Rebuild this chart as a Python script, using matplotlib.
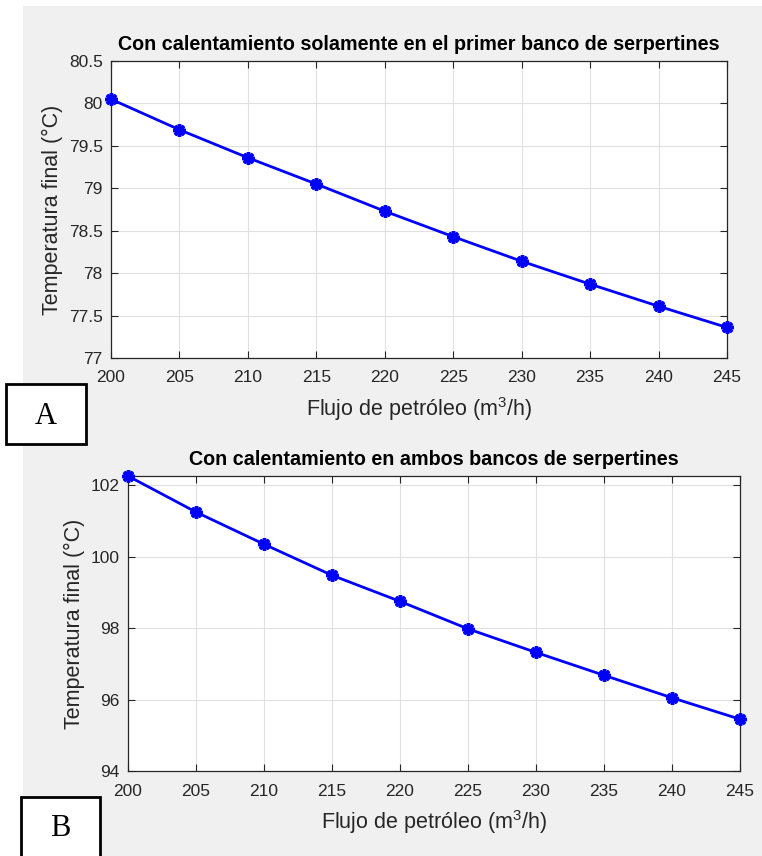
"""Temperatura final vs flujo de petróleo, dos casos de calentamiento."""
import matplotlib
matplotlib.use("Agg")
import matplotlib.pyplot as plt
from matplotlib.patches import Rectangle

plt.rcParams["font.family"] = ["Liberation Sans", "DejaVu Sans"]
plt.rcParams["mathtext.default"] = "regular"

FLUJO = [200, 205, 210, 215, 220, 225, 230, 235, 240, 245]
TEMP_PRIMER_BANCO = [80.05, 79.69, 79.36, 79.05, 78.73, 78.43, 78.14, 77.87, 77.61, 77.36]
TEMP_AMBOS_BANCOS = [102.26, 101.25, 100.35, 99.48, 98.75, 97.98, 97.32, 96.68, 96.05, 95.45]

TITLE_A = "Con calentamiento solamente en el primer banco de serpertines"
TITLE_B = "Con calentamiento en ambos bancos de serpertines"
XLABEL = "Flujo de petróleo (m$^3$/h)"
YLABEL = "Temperatura final (°C)"
YTICKS_A = [77, 77.5, 78, 78.5, 79, 79.5, 80, 80.5]
YTICKS_B = [94, 96, 98, 100, 102]

W, H = 762, 856
DARK = "#262626"


def style_axes(ax, title, yticks, ylim):
    ax.set_xlim(200, 245)
    ax.set_ylim(*ylim)
    ax.set_xticks(FLUJO)
    ax.set_yticks(yticks)
    ax.set_yticklabels([f"{t:g}" for t in yticks])
    ax.grid(True, color="#e0e0e0", linewidth=0.8)
    ax.set_axisbelow(True)
    ax.tick_params(direction="in", top=True, right=True, length=5, width=0.8,
                   colors=DARK, labelsize=12.5, labelcolor=DARK)
    ax.tick_params(axis="x", pad=9)
    ax.tick_params(axis="y", pad=6)
    for spine in ax.spines.values():
        spine.set_color(DARK)
        spine.set_linewidth(0.9)
    ax.set_title(title, fontsize=14.2, fontweight="bold", color="black", pad=8)
    ax.set_xlabel(XLABEL, fontsize=15.5, color=DARK, labelpad=7)
    ax.set_ylabel(YLABEL, fontsize=15.5, color=DARK, labelpad=4)


fig = plt.figure(figsize=(W / 100, H / 100), dpi=100, facecolor="white")
fig.patches.append(Rectangle((23 / W, 0), 1 - 23 / W, 1 - 6 / H,
                             transform=fig.transFigure, facecolor="#f0f0f0",
                             edgecolor="none", zorder=-10))

ax_a = fig.add_axes([111 / W, 1 - 358 / H, 616 / W, 297 / H])
ax_b = fig.add_axes([128 / W, 1 - 771 / H, 612 / W, 295 / H])

for ax, temps, title, yticks, ylim in [
    (ax_a, TEMP_PRIMER_BANCO, TITLE_A, YTICKS_A, (77, 80.5)),
    (ax_b, TEMP_AMBOS_BANCOS, TITLE_B, YTICKS_B, (94, max(TEMP_AMBOS_BANCOS))),
]:
    ax.plot(FLUJO, temps, color="#0000ff", linewidth=2, marker=(8, 2, 0),
            markersize=9, markeredgewidth=2.5, clip_on=False, zorder=5)
    style_axes(ax, title, yticks, ylim)

# letter boxes
for label, x0, y0, x1, y1 in [("A", 6, 384, 86, 444), ("B", 21, 797, 100, 860)]:
    fig.patches.append(Rectangle((x0 / W, 1 - y1 / H), (x1 - x0) / W, (y1 - y0) / H,
                                 transform=fig.transFigure, facecolor="white",
                                 edgecolor="black", linewidth=2, zorder=5))
    fig.text((x0 + x1) / 2 / W, 1 - (y0 + 32) / H, label, ha="center", va="center",
             fontsize=22, family="Liberation Serif", zorder=6)

fig.savefig("out.png", dpi=100, facecolor=fig.get_facecolor())
